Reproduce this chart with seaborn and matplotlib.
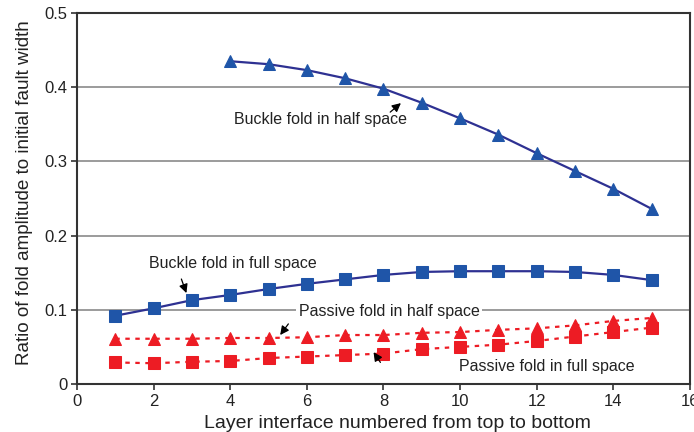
import matplotlib
matplotlib.use("Agg")
import matplotlib.pyplot as plt
import seaborn as sns
import pandas as pd
import numpy as np

layers_half = [4, 5, 6, 7, 8, 9, 10, 11, 12, 13, 14, 15]
buckle_half = [0.435, 0.431, 0.423, 0.412, 0.398, 0.379, 0.358, 0.336, 0.311, 0.287, 0.263, 0.236]
layers = list(range(1, 16))
buckle_full = [0.092, 0.102, 0.113, 0.120, 0.128, 0.135, 0.141, 0.147, 0.151, 0.152, 0.152, 0.152, 0.151, 0.147, 0.140]
passive_half = [0.061, 0.061, 0.061, 0.062, 0.062, 0.063, 0.066, 0.066, 0.069, 0.070, 0.073, 0.075, 0.079, 0.085, 0.089]
passive_full = [0.029, 0.028, 0.030, 0.031, 0.035, 0.037, 0.039, 0.041, 0.047, 0.050, 0.053, 0.058, 0.064, 0.070, 0.076]

x_ticks = [0, 2, 4, 6, 8, 10, 12, 14, 16]
y_ticks = [0, 0.1, 0.2, 0.3, 0.4, 0.5]
y_ticklabels = ["0", "0.1", "0.2", "0.3", "0.4", "0.5"]

sns.set_theme(style="white")
plt.rcParams['font.family'] = ['Liberation Sans', 'DejaVu Sans']

fig = plt.figure(figsize=(6.94, 4.32), dpi=100)
ax = fig.add_axes([77/694, 1 - 384/432, (690 - 77)/694, (384 - 13)/432])

blue_line = "#2e3192"
blue_mk = "#1f55a8"
red = "#ed1c24"

for yv in [0.1, 0.2, 0.3, 0.4]:
    ax.axhline(yv, color="#8a8a8a", lw=1.2, zorder=0)

sns.lineplot(x=layers_half, y=buckle_half, ax=ax, color=blue_line, lw=1.6,
             marker="^", markersize=9, markerfacecolor=blue_mk, markeredgecolor=blue_mk, zorder=3)
sns.lineplot(x=layers, y=buckle_full, ax=ax, color=blue_line, lw=1.6,
             marker="s", markersize=8, markerfacecolor=blue_mk, markeredgecolor=blue_mk, zorder=3)
sns.lineplot(x=layers, y=passive_half, ax=ax, color=red, lw=1.6, linestyle=(0, (2, 2.5)),
             marker="^", markersize=9, markerfacecolor=red, markeredgecolor=red, zorder=3)
sns.lineplot(x=layers, y=passive_full, ax=ax, color=red, lw=1.6, linestyle=(0, (2, 2.5)),
             marker="s", markersize=8, markerfacecolor=red, markeredgecolor=red, zorder=3)

ax.set_xlim(0, 16)
ax.set_ylim(0, 0.5)
ax.set_xticks(x_ticks)
ax.set_yticks(y_ticks)
ax.set_yticklabels(y_ticklabels)
ax.tick_params(axis="both", direction="out", length=4, width=1.2, color="#333333",
               labelsize=12, labelcolor="#222222", left=True, bottom=True, pad=3)
for s in ax.spines.values():
    s.set_color("#333333")
    s.set_linewidth(1.5)

ax.set_xlabel("Layer interface numbered from top to bottom", fontsize=14, color="#222222")
ax.set_ylabel("Ratio of fold amplitude to initial fault width", fontsize=13.6, color="#222222")
ax.xaxis.set_label_coords(0.522, -0.084)
ax.yaxis.set_label_coords(-0.071, 0.515)

arrow = dict(arrowstyle="-|>", color="black", lw=0.9, mutation_scale=13)
tk = dict(fontsize=11.5, color="#222222", ha="center", va="center")

ax.text(6.36, 0.356, "Buckle fold in half space", **tk)
ax.annotate("", xy=(8.51, 0.381), xytext=(8.12, 0.364), arrowprops=arrow)

ax.text(4.08, 0.162, "Buckle fold in full space", **tk)
ax.annotate("", xy=(2.88, 0.119), xytext=(2.70, 0.145), arrowprops=arrow)

ax.text(8.15, 0.098, "Passive fold in half space",
        bbox=dict(facecolor="white", edgecolor="none", pad=2), zorder=2, **tk)
ax.annotate("", xy=(5.26, 0.063), xytext=(5.56, 0.084), arrowprops=arrow)

ax.text(12.27, 0.024, "Passive fold in full space", **tk)
ax.annotate("", xy=(7.70, 0.046), xytext=(7.96, 0.026), arrowprops=arrow)

fig.savefig("out.png", dpi=100)
